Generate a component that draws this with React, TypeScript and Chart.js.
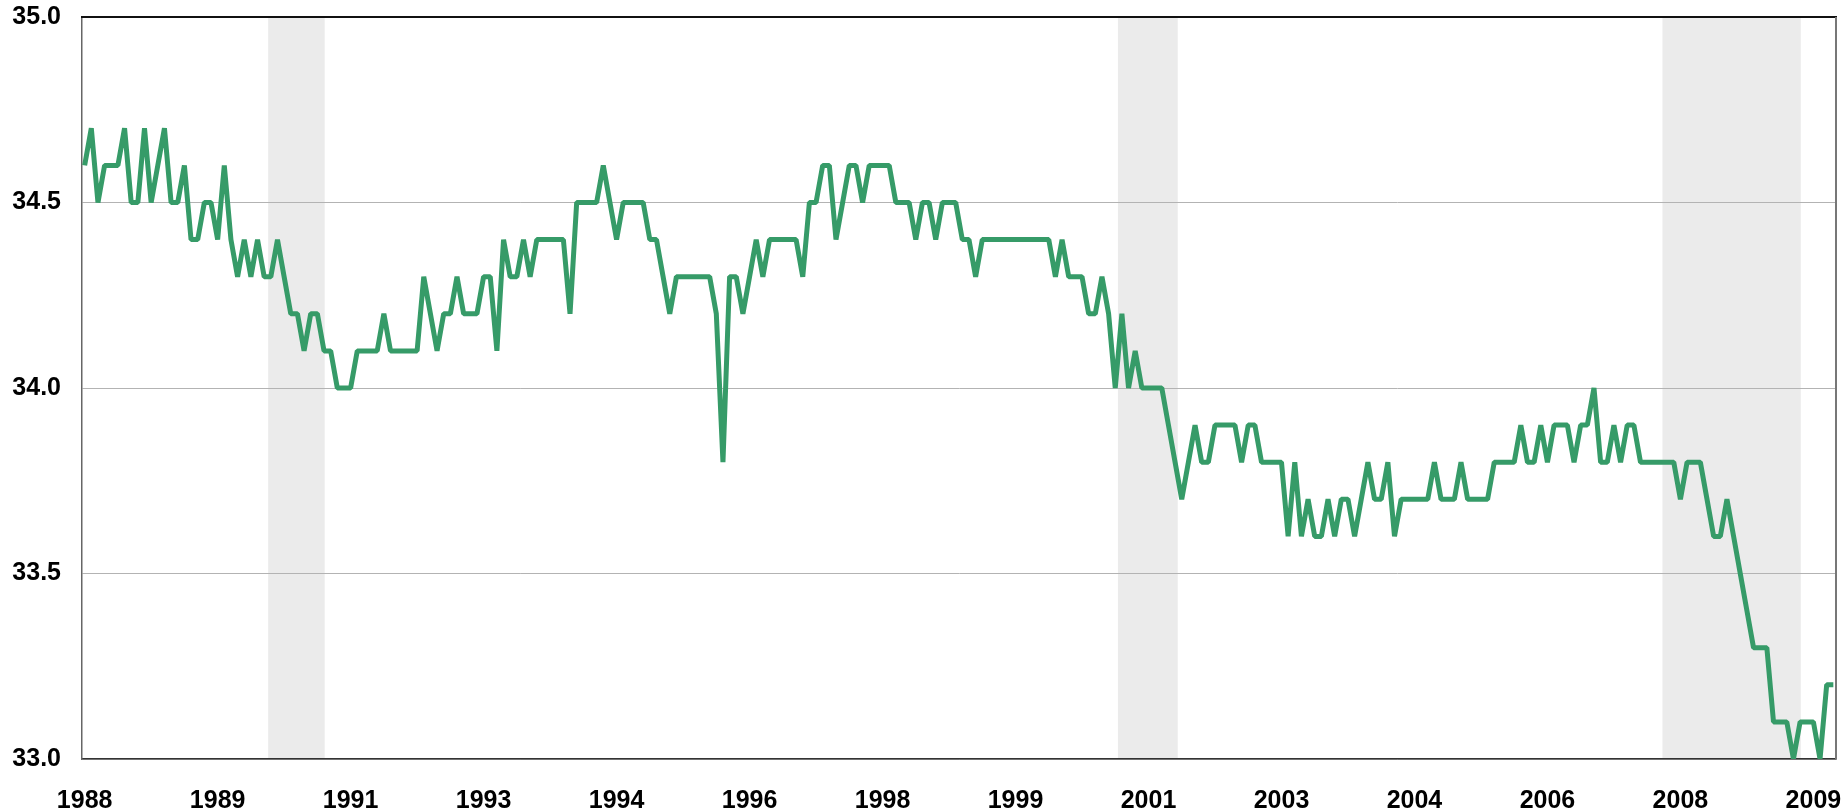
import { useEffect, useRef } from 'react';
import { Chart, registerables } from 'chart.js';

Chart.register(...registerables);

// Monthly average weekly hours, Jan 1988 .. Dec 2009 (index 0 = Jan 1988)
const HOURS: number[] = [
  // 1988
  34.6, 34.7, 34.5, 34.6, 34.6, 34.6, 34.7, 34.5, 34.5, 34.7, 34.5, 34.6,
  // 1989
  34.7, 34.5, 34.5, 34.6, 34.4, 34.4, 34.5, 34.5, 34.4, 34.6, 34.4, 34.3,
  // 1990
  34.4, 34.3, 34.4, 34.3, 34.3, 34.4, 34.3, 34.2, 34.2, 34.1, 34.2, 34.2,
  // 1991
  34.1, 34.1, 34.0, 34.0, 34.0, 34.1, 34.1, 34.1, 34.1, 34.2, 34.1, 34.1,
  // 1992
  34.1, 34.1, 34.1, 34.3, 34.2, 34.1, 34.2, 34.2, 34.3, 34.2, 34.2, 34.2,
  // 1993
  34.3, 34.3, 34.1, 34.4, 34.3, 34.3, 34.4, 34.3, 34.4, 34.4, 34.4, 34.4,
  // 1994
  34.4, 34.2, 34.5, 34.5, 34.5, 34.5, 34.6, 34.5, 34.4, 34.5, 34.5, 34.5,
  // 1995
  34.5, 34.4, 34.4, 34.3, 34.2, 34.3, 34.3, 34.3, 34.3, 34.3, 34.3, 34.2,
  // 1996
  33.8, 34.3, 34.3, 34.2, 34.3, 34.4, 34.3, 34.4, 34.4, 34.4, 34.4, 34.4,
  // 1997
  34.3, 34.5, 34.5, 34.6, 34.6, 34.4, 34.5, 34.6, 34.6, 34.5, 34.6, 34.6,
  // 1998
  34.6, 34.6, 34.5, 34.5, 34.5, 34.4, 34.5, 34.5, 34.4, 34.5, 34.5, 34.5,
  // 1999
  34.4, 34.4, 34.3, 34.4, 34.4, 34.4, 34.4, 34.4, 34.4, 34.4, 34.4, 34.4,
  // 2000
  34.4, 34.4, 34.3, 34.4, 34.3, 34.3, 34.3, 34.2, 34.2, 34.3, 34.2, 34.0,
  // 2001
  34.2, 34.0, 34.1, 34.0, 34.0, 34.0, 34.0, 33.9, 33.8, 33.7, 33.8, 33.9,
  // 2002
  33.8, 33.8, 33.9, 33.9, 33.9, 33.9, 33.8, 33.9, 33.9, 33.8, 33.8, 33.8,
  // 2003
  33.8, 33.6, 33.8, 33.6, 33.7, 33.6, 33.6, 33.7, 33.6, 33.7, 33.7, 33.6,
  // 2004
  33.7, 33.8, 33.7, 33.7, 33.8, 33.6, 33.7, 33.7, 33.7, 33.7, 33.7, 33.8,
  // 2005
  33.7, 33.7, 33.7, 33.8, 33.7, 33.7, 33.7, 33.7, 33.8, 33.8, 33.8, 33.8,
  // 2006
  33.9, 33.8, 33.8, 33.9, 33.8, 33.9, 33.9, 33.9, 33.8, 33.9, 33.9, 34.0,
  // 2007
  33.8, 33.8, 33.9, 33.8, 33.9, 33.9, 33.8, 33.8, 33.8, 33.8, 33.8, 33.8,
  // 2008
  33.7, 33.8, 33.8, 33.8, 33.7, 33.6, 33.6, 33.7, 33.6, 33.5, 33.4, 33.3,
  // 2009
  33.3, 33.3, 33.1, 33.1, 33.1, 33.0, 33.1, 33.1, 33.1, 33.0, 33.2, 33.2,
];

// Tick positions (month index) and their labels
const TICK_INDEX: number[] = [0, 20, 40, 60, 80, 100, 120, 140, 160, 180, 200, 220, 240, 260];
const TICK_LABELS: string[] = [
  '1988', '1989', '1991', '1993', '1994', '1996', '1998',
  '1999', '2001', '2003', '2004', '2006', '2008', '2009',
];
const Y_TICKS: number[] = [33.0, 33.5, 34.0, 34.5, 35.0];

// Shaded recession periods, in month index units [start, end]
const RECESSION_START: number[] = [27.6, 155.4, 237.3];
const RECESSION_END: number[] = [36.1, 164.4, 258.1];

const FONT = { family: '"Liberation Sans", Arial, Helvetica, sans-serif', size: 25, weight: 'bold' as const };

function zeroPadding(s: any) {
  s.paddingLeft = 0;
  s.paddingRight = 0;
  s.paddingTop = 0;
  s.paddingBottom = 0;
}

export default function App() {
  const ref = useRef<HTMLCanvasElement>(null);

  useEffect(() => {
    document.body.style.margin = '0';
    const canvas = ref.current;
    if (!canvas) return;

    const shading = {
      id: 'shading',
      beforeDraw(chart: any) {
        const { ctx, chartArea, scales } = chart;
        const x = scales.x;
        ctx.save();
        ctx.fillStyle = '#ebebeb';
        RECESSION_START.forEach((s, k) => {
          const x0 = x.getPixelForValue(s);
          const x1 = x.getPixelForValue(RECESSION_END[k]);
          ctx.fillRect(x0, chartArea.top, x1 - x0, chartArea.bottom - chartArea.top);
        });
        ctx.restore();
      },
    };

    const frame = {
      id: 'frame',
      afterDraw(chart: any) {
        const { ctx, chartArea } = chart;
        ctx.save();
        ctx.fillStyle = '#111111';
        ctx.fillRect(chartArea.left - 1, chartArea.top - 1, chartArea.right - chartArea.left + 2, 2);
        ctx.fillStyle = '#777777';
        ctx.fillRect(chartArea.right - 1, chartArea.top, 2, chartArea.bottom - chartArea.top);
        ctx.restore();
      },
    };

    const chart = new Chart(canvas, {
      type: 'line',
      data: {
        datasets: [
          {
            data: HOURS.map((v, i) => ({ x: i, y: v })),
            borderColor: '#369b68',
            borderWidth: 5,
            pointRadius: 0,
            tension: 0,
            borderJoinStyle: 'bevel',
            clip: 0,
          } as any,
        ],
      },
      options: {
        animation: false,
        responsive: false,
        events: [],
        plugins: { legend: { display: false }, tooltip: { enabled: false } },
        layout: { padding: { top: 17, right: 7, left: 0, bottom: 0 } },
        scales: {
          x: {
            type: 'linear',
            min: -0.4,
            max: 263.4,
            afterBuildTicks: (s: any) => {
              s.ticks = TICK_INDEX.map((v) => ({ value: v }));
            },
            afterFit: (s: any) => {
              s.height = 52;
              zeroPadding(s);
            },
            grid: { display: false, drawTicks: false },
            border: { display: true, color: '#333333', width: 1.5 },
            ticks: {
              autoSkip: false,
              maxRotation: 0,
              minRotation: 0,
              padding: 27,
              color: '#000000',
              font: FONT,
              callback: (v: any) => {
                const k = TICK_INDEX.indexOf(Number(v));
                return k >= 0 ? TICK_LABELS[k] : '';
              },
            },
          },
          y: {
            min: 33,
            max: 35,
            afterBuildTicks: (s: any) => {
              s.ticks = Y_TICKS.map((v) => ({ value: v }));
            },
            afterFit: (s: any) => {
              s.width = 82;
              zeroPadding(s);
            },
            grid: { color: '#b3b3b3', lineWidth: 1, drawTicks: false },
            border: { display: true, color: '#666666', width: 1.5 },
            ticks: {
              padding: 21,
              color: '#000000',
              font: FONT,
              callback: (v: any) => Number(v).toFixed(1),
            },
          },
        },
      },
      plugins: [shading, frame],
    });

    return () => chart.destroy();
  }, []);

  return <canvas ref={ref} width={1843} height={811} style={{ display: 'block' }} />;
}
